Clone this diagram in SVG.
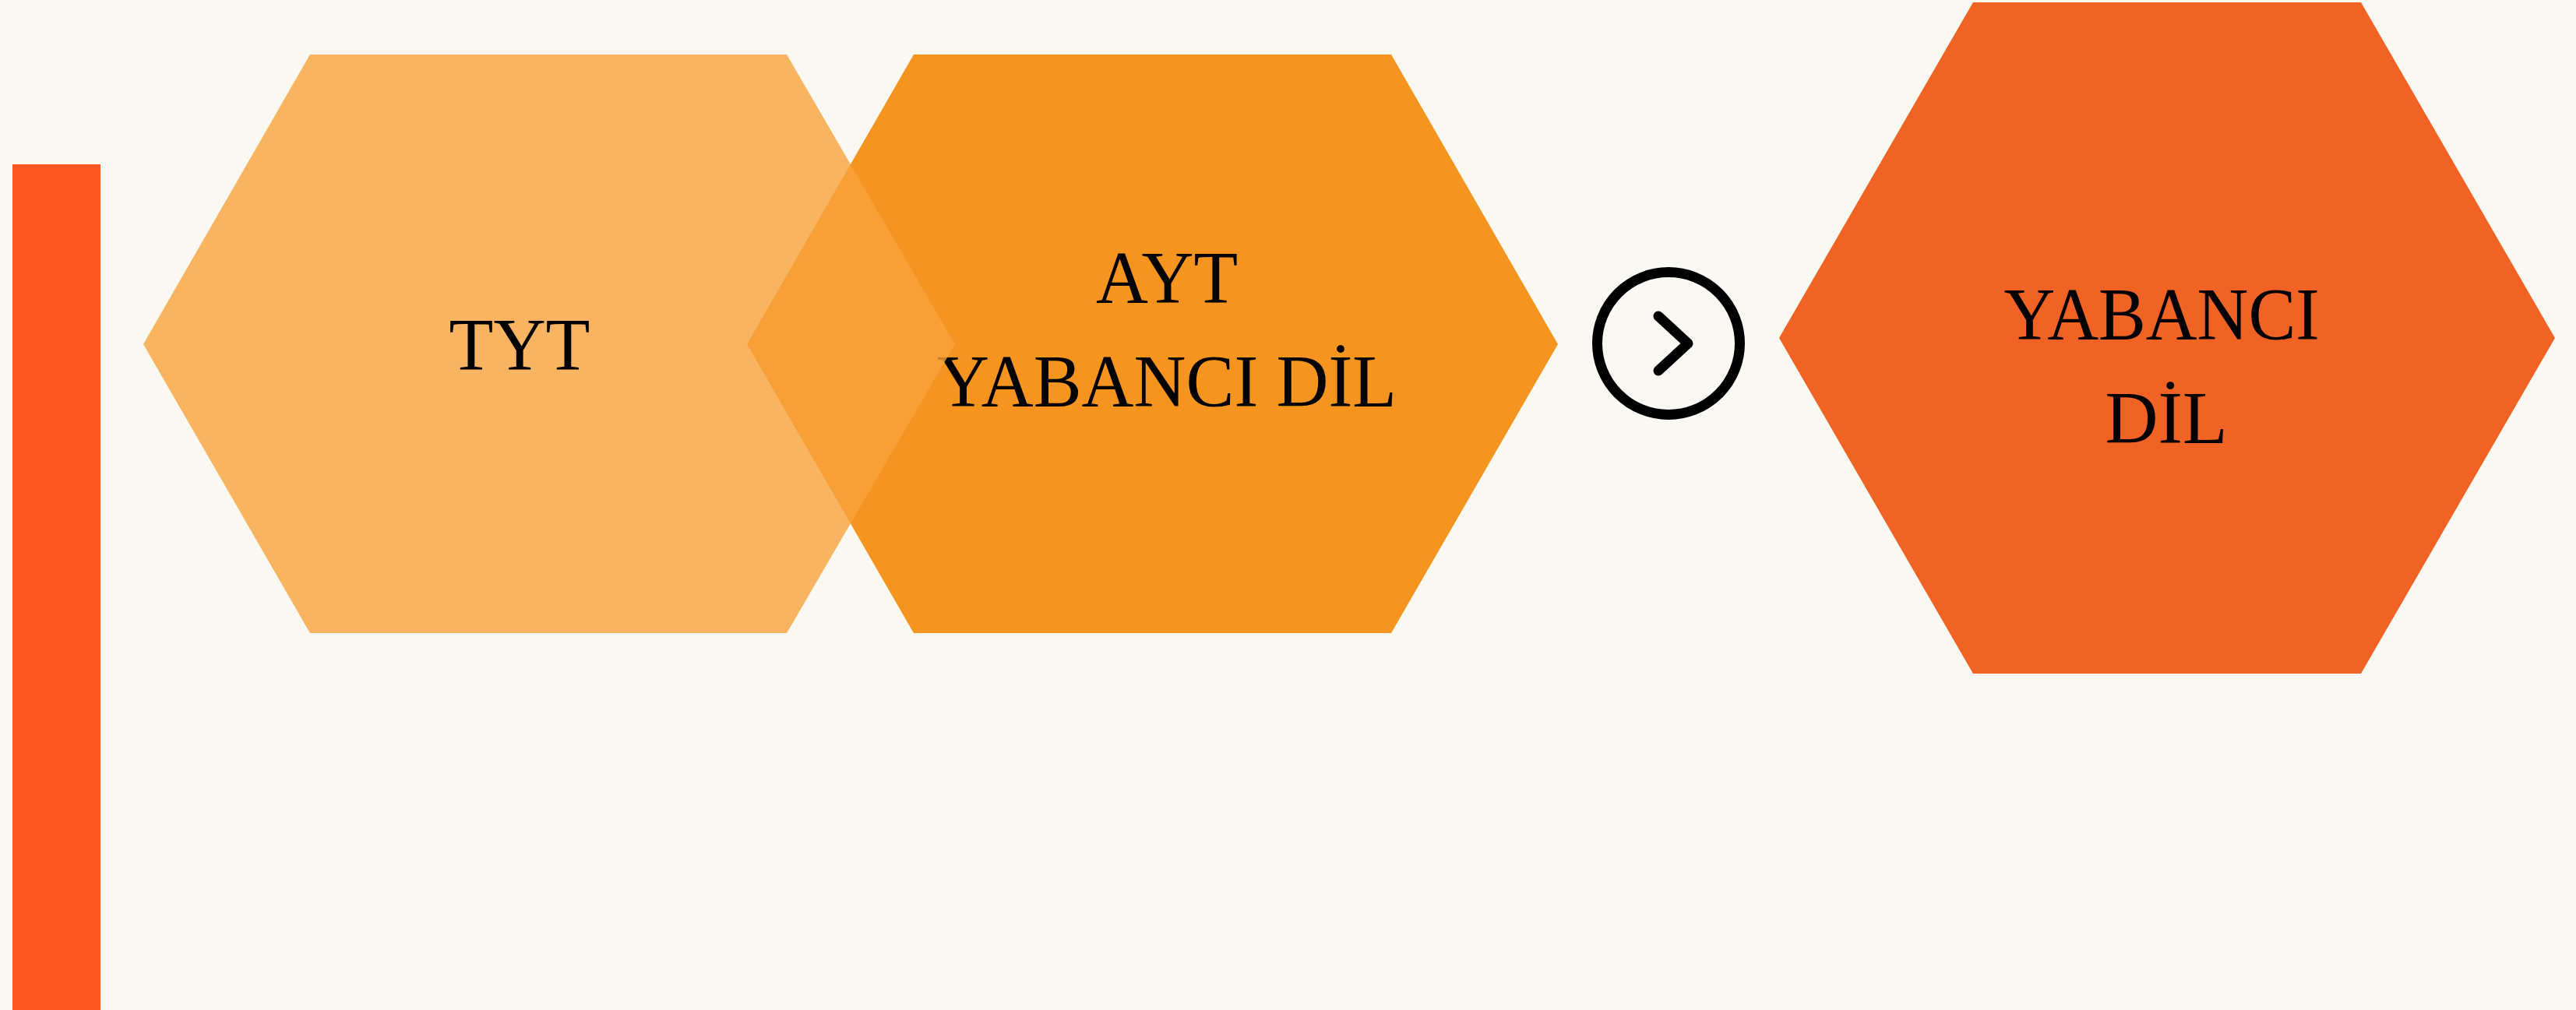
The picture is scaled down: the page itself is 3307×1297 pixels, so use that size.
<svg xmlns="http://www.w3.org/2000/svg" width="3307" height="1297" viewBox="0 0 3307 1297">
<style>
.lbl{font-family:"Liberation Serif","Times New Roman",serif;font-size:96px;fill:#000;text-anchor:middle}
</style>
<rect x="0" y="0" width="3307" height="1297" fill="#F9F9F1"/>
<g id="bar"><rect x="16" y="211" width="113" height="1086" fill="#FF5722"/></g>
<g id="node-ayt">
<polygon points="959,442 1173,70 1786,70 2000,442 1786,813 1173,813" fill="#F5941E"/>
<text class="lbl" x="1498" y="389" textLength="182" lengthAdjust="spacingAndGlyphs">AYT</text>
<text class="lbl" x="1498" y="522" textLength="590" lengthAdjust="spacingAndGlyphs">YABANCI DİL</text>
</g>
<g id="node-tyt">
<polygon points="184,442 398,70 1010,70 1226,442 1010,813 398,813" fill="#F7A33D" fill-opacity="0.8"/>
<text class="lbl" x="667" y="475" textLength="181" lengthAdjust="spacingAndGlyphs">TYT</text>
</g>
<g id="connectors">
<circle cx="2142" cy="441" r="91.5" fill="none" stroke="#000" stroke-width="13"/>
<polyline points="2129,406 2167,441 2129,476" fill="none" stroke="#000" stroke-width="13" stroke-linecap="round" stroke-linejoin="round"/>
</g>
<g id="node-yabanci-dil">
<polygon points="2284,434 2533,3 3031,3 3280,434 3031,865 2533,865" fill="#F06324"/>
<text class="lbl" x="2775" y="436" textLength="405" lengthAdjust="spacingAndGlyphs">YABANCI</text>
<text class="lbl" x="2781" y="569" textLength="157" lengthAdjust="spacingAndGlyphs">DİL</text>
</g>
</svg>
